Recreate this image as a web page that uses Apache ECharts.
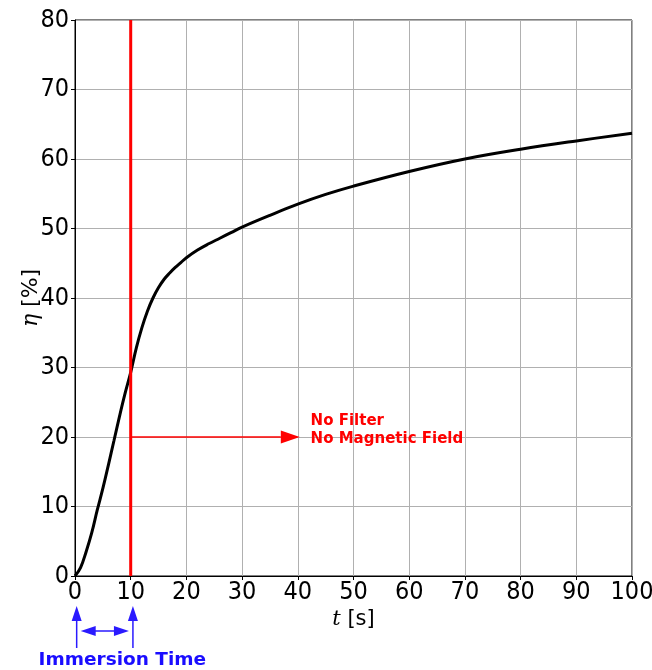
<!DOCTYPE html>
<html>
<head>
<meta charset="utf-8">
<script src="https://cdn.jsdelivr.net/npm/echarts@6/dist/echarts.min.js"></script>
<style>
html,body{margin:0;padding:0;background:#fff;}
#chart{width:652px;height:670px;}
</style>
</head>
<body>
<div id="chart"></div>
<script>
// ---- data ----
const xTicks = [0,10,20,30,40,50,60,70,80,90,100];
const yTicks = [0,10,20,30,40,50,60,70,80];
const tValues   = [0, 1, 2, 3, 4, 5, 6, 7, 8, 9, 10, 11, 12, 13, 14, 15, 16, 17, 18, 19, 20, 22, 24, 26, 28, 30, 35, 40, 45, 50, 60, 70, 80, 90, 100];
const etaValues = [0, 1.2, 3.5, 6.2, 9.5, 12.6, 16.0, 19.5, 23.0, 26.3, 29.3, 32.8, 35.7, 38.1, 40.0, 41.5, 42.7, 43.6, 44.4, 45.1, 45.8, 46.9, 47.8, 48.6, 49.4, 50.2, 51.9, 53.5, 54.9, 56.1, 58.2, 60.0, 61.4, 62.6, 63.7];
const immersionEnd = 10;
const redArrowFrom = [10, 20];
const redArrowTo = [40, 20];
const redTextAnchor = [42.3, 21];
const redTextLines = ['No Filter', 'No Magnetic Field'];
const blueArrowX = [0.3, 10.4];
const blueTextX = 8.5;
const blueText = 'Immersion Time';

const curve = tValues.map((t, i) => [t, etaValues[i]]);

const chart = echarts.init(document.getElementById('chart'), null, {renderer: 'canvas'});

function arrowHead(tip, dir, len, hw, color) {
  const bx = tip[0] - dir[0] * len, by = tip[1] - dir[1] * len;
  const px = -dir[1], py = dir[0];
  return {
    type: 'polygon',
    shape: {points: [tip, [bx + px * hw, by + py * hw], [bx - px * hw, by - py * hw]]},
    style: {fill: color}
  };
}

const tickFont = '"Liberation Sans Narrow", "DejaVu Sans Condensed", "DejaVu Sans", sans-serif';

const option = {
  animation: false,
  backgroundColor: '#fff',
  grid: {left: 75, right: 20, top: 20, bottom: 94, show: true, borderColor: '#000', borderWidth: 1,
    containLabel: false, outerBoundsMode: 'none'},
  xAxis: {
    type: 'value', min: 0, max: 100, interval: 10,
    name: '{i|t} [s]', nameLocation: 'middle', nameGap: 33, nameMoveOverlap: false,
    nameTextStyle: {fontFamily: 'DejaVu Sans', fontSize: 21, color: '#000',
      rich: {i: {fontFamily: 'DejaVu Serif', fontStyle: 'italic', fontSize: 21, color: '#000'}}},
    axisLine: {show: true, lineStyle: {color: '#000', width: 1}},
    axisTick: {show: true, length: 4, lineStyle: {color: '#000'}},
    axisLabel: {fontFamily: tickFont, fontSize: 25, color: '#000', margin: 4, hideOverlap: false},
    splitLine: {show: true, lineStyle: {color: '#b0b0b0', width: 1}}
  },
  yAxis: {
    type: 'value', min: 0, max: 80, interval: 10,
    name: '{i|η} [%]', nameLocation: 'middle', nameGap: 33, nameRotate: 90, nameMoveOverlap: false,
    nameTextStyle: {fontFamily: 'DejaVu Sans', fontSize: 22, color: '#000',
      rich: {i: {fontFamily: 'DejaVu Serif', fontStyle: 'italic', fontSize: 22, color: '#000'}}},
    axisLine: {show: true, lineStyle: {color: '#000', width: 1}},
    axisTick: {show: true, length: 4, lineStyle: {color: '#000'}},
    axisLabel: {fontFamily: tickFont, fontSize: 25, color: '#000', margin: 6},
    splitLine: {show: true, lineStyle: {color: '#b0b0b0', width: 1}}
  },
  series: [
    {
      type: 'line', data: curve, smooth: 0.4, showSymbol: false, z: 3,
      lineStyle: {color: '#000', width: 3}
    },
    {
      type: 'line', data: [[immersionEnd, 0], [immersionEnd, 80]], showSymbol: false, z: 4,
      lineStyle: {color: '#ff0000', width: 3}
    },
    {
      type: 'custom', data: [0], clip: false, z: 5,
      renderItem: function (params, api) {
        const children = [];
        const a = api.coord(redArrowFrom), b = api.coord(redArrowTo);
        const rLen = 19;
        children.push({type: 'line', shape: {x1: a[0], y1: a[1], x2: b[0] - rLen + 2, y2: b[1]},
          style: {stroke: '#ff0000', lineWidth: 1.5}});
        children.push(arrowHead([b[0] + 2, b[1]], [1, 0], rLen, 6.5, '#ff0000'));
        const tp = api.coord(redTextAnchor);
        children.push({type: 'text', x: tp[0], y: tp[1],
          style: {text: redTextLines.join('\n'), fill: '#ff0000', font: 'bold 15px "DejaVu Sans"',
            textAlign: 'left', textVerticalAlign: 'middle', lineHeight: 18}});
        const blue = '#2a1aff';
        const p0 = api.coord([blueArrowX[0], 0]), p1 = api.coord([blueArrowX[1], 0]);
        const axisY = p0[1];
        [p0, p1].forEach(function (p) {
          const tip = [p[0], axisY + 30];
          children.push({type: 'line', shape: {x1: p[0], y1: axisY + 72, x2: p[0], y2: tip[1] + 10},
            style: {stroke: blue, lineWidth: 1.5}});
          children.push(arrowHead(tip, [0, -1], 15, 5, blue));
        });
        const hy = axisY + 55;
        const l = [p0[0] + 4, hy], r = [p1[0] - 4, hy];
        children.push({type: 'line', shape: {x1: l[0] + 10, y1: hy, x2: r[0] - 10, y2: hy},
          style: {stroke: blue, lineWidth: 1.5}});
        children.push(arrowHead(l, [-1, 0], 15, 5, blue));
        children.push(arrowHead(r, [1, 0], 15, 5, blue));
        const tx = api.coord([blueTextX, 0])[0];
        children.push({type: 'text', x: tx, y: axisY + 84,
          style: {text: blueText, fill: '#1a0dff', font: 'bold 18.5px "DejaVu Sans"',
            textAlign: 'center', textVerticalAlign: 'middle'}});
        return {type: 'group', children: children};
      }
    }
  ]
};
chart.setOption(option);
</script>
</body>
</html>
